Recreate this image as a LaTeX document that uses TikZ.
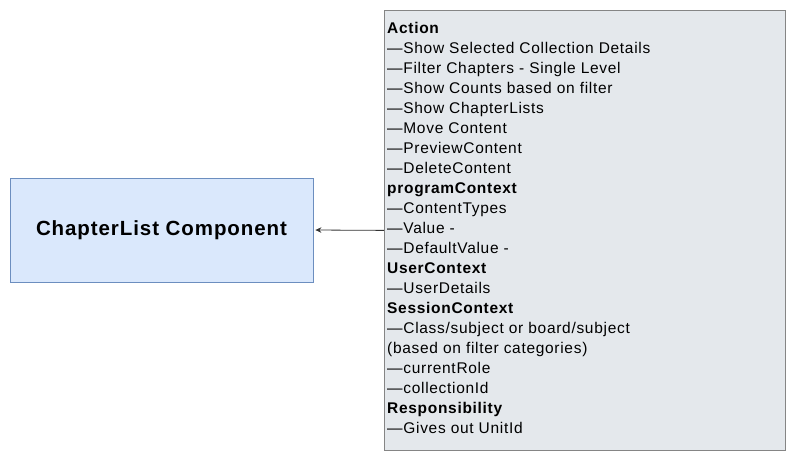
\documentclass[tikz,border=0pt]{standalone}
\usepackage{fontspec}
\setmainfont{Liberation Sans}[LetterSpace=4.5]
\usetikzlibrary{arrows.meta}
\definecolor{chapfill}{HTML}{DAE8FC}
\definecolor{chapline}{HTML}{6C8EBF}
\definecolor{ctxfill}{HTML}{E4E8EC}
\definecolor{ctxline}{HTML}{858585}
\definecolor{arrowcol}{HTML}{333333}
\tikzset{
  compbox/.style={draw=chapline, fill=chapfill, line width=0.8pt, minimum width=303pt, minimum height=104pt, inner sep=0pt, font=\fontsize{20.5}{24}\selectfont\bfseries},
  ctxbox/.style={draw=ctxline, fill=ctxfill, line width=0.8pt, minimum width=401pt, minimum height=440pt, inner sep=0pt, anchor=north west},
  ctxtext/.style={inner sep=0pt, anchor=north west, align=left, font=\fontsize{15.5}{20}\selectfont},
  conn/.style={draw=arrowcol, line width=0.8pt, -{Stealth[length=6pt,width=5.5pt]}, shorten >=2pt}
}
\begin{document}
\begin{tikzpicture}[x=1pt,y=-1pt]
\useasboundingbox (0,0) rectangle (796,462);
\node[compbox] (chap) at (161.5,230) {ChapterList Component};
\node[ctxbox] (ctx) at (384,10) {};
\node[ctxtext] (ctxt) at (387,22) {\textbf{Action}\\
—Show Selected Collection Details\\
—Filter Chapters - Single Level\\
—Show Counts based on filter\\
—Show ChapterLists\\
—Move Content\\
—PreviewContent\\
—DeleteContent\\
\textbf{programContext}\\
—ContentTypes\\
—Value -\\
—DefaultValue -\\
\textbf{UserContext}\\
—UserDetails\\
\textbf{SessionContext}\\
—Class/subject or board/subject\\
(based on filter categories)\\
—currentRole\\
—collectionId\\
\textbf{Responsibility}\\
—Gives out UnitId};
\draw[conn] (ctx.west) -- (chap.east);
\end{tikzpicture}
\end{document}
